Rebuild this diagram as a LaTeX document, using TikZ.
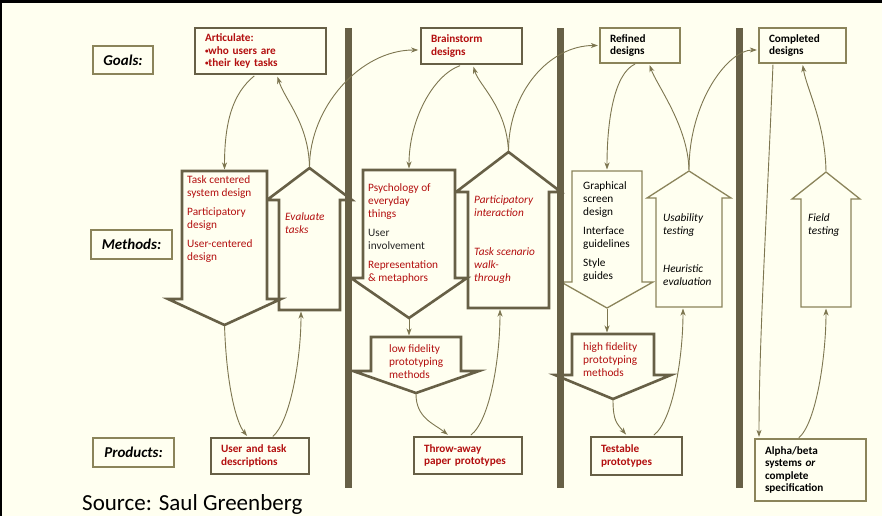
\documentclass[tikz,border=0pt]{standalone}
\usepackage{fontspec}
\setmainfont{Carlito}
\usetikzlibrary{arrows.meta}

\definecolor{bgcol}{HTML}{FFFFF0}
\definecolor{framecol}{HTML}{676046}
\definecolor{thincol}{HTML}{8B845A}
\definecolor{linkcol}{HTML}{7D7650}
\definecolor{redtxt}{HTML}{B30F0F}

\newcommand{\smallbul}{{\fontsize{7}{7}\selectfont\raisebox{1pt}{\textbullet}}}

\begin{document}
\begin{tikzpicture}[x=1pt, y=-1pt,
  boldbox/.style={rectangle, draw=framecol, line width=2.6pt, fill=bgcol, align=left, inner xsep=10pt, inner ysep=2pt, font=\fontsize{11.2}{12.5}\selectfont\bfseries, text=redtxt},
  thinbox/.style={rectangle, draw=thincol, line width=1.2pt, fill=bgcol, align=left, inner xsep=10pt, inner ysep=2pt, font=\fontsize{11.2}{12.5}\selectfont\bfseries},
  rowlabel/.style={rectangle, draw=thincol, line width=1.4pt, fill=bgcol, font=\fontsize{15}{17}\selectfont\bfseries\itshape},
  bigarrow/.style={draw=framecol, line width=2.6pt, fill=bgcol},
  thinarrow/.style={draw=thincol, line width=1.3pt, fill=bgcol},
  methodtxt/.style={anchor=north west, inner sep=0pt, align=left, text=redtxt, font=\fontsize{11.3}{13}\selectfont},
  bar/.style={fill=framecol},
  link/.style={->, >={Stealth[length=7pt,width=5pt,inset=2pt]}, draw=linkcol, line width=0.9pt, shorten >=1.5pt, shorten <=1pt}
]
\useasboundingbox (0,0) rectangle (882,516);
\fill[black] (0,0) rectangle (882,516);
\fill[bgcol] (2,3) rectangle (882,516);

% Row labels
\node[rowlabel, minimum width=60, minimum height=28] (goals) at (123,60) {Goals:};
\node[rowlabel, minimum width=81, minimum height=29] (methods) at (131.5,244.5) {Methods:};
\node[rowlabel, minimum width=81, minimum height=29] (products) at (133.5,452.5) {Products:};

% Methods, column 1
\draw[bigarrow] (279,310) -- (279,200) -- (267,200) -- (309.5,168) coordinate (ua1tip) -- (352,200) -- (340,200) -- (340,310) -- (301,310) coordinate (ua1bot) -- cycle;
\draw[bigarrow] (182,171) -- (224.5,171) coordinate (da1top) -- (267,171) -- (267,299) -- (281,299) -- (224.5,325) coordinate (da1tip) -- (168,299) -- (182,299) -- cycle;

% Methods, column 2
\draw[bigarrow] (468,308) -- (468,192) -- (456,192) -- (508.5,152) coordinate (ua2tip) -- (561,192) -- (549,192) -- (549,308) -- (500,308) coordinate (ua2bot) -- cycle;
\draw[bigarrow] (363,170) -- (409,170) coordinate (da2top) -- (455,170) -- (455,278) -- (467,278) -- (409,318) coordinate (da2tip) -- (351,278) -- (363,278) -- cycle;
\draw[bigarrow] (371,337) -- (409,337) coordinate (lftop) -- (461,337) -- (461,371) -- (479,371) -- (416,393) coordinate (lftip) -- (353,371) -- (371,371) -- cycle;

% Methods, column 3
\draw[thinarrow] (656,307) -- (656,198) -- (647,198) -- (689,171) coordinate (ua3tip) -- (731,198) -- (722,198) -- (722,307) -- (683,307) coordinate (ua3bot) -- cycle;
\draw[thinarrow] (572,171) -- (607,171) coordinate (da3top) -- (642,171) -- (642,282) -- (653,282) -- (607,308) coordinate (da3tip) -- (561,282) -- (572,282) -- cycle;
\draw[bigarrow] (572,334) -- (607,334) coordinate (hftop) -- (654,334) -- (654,375) -- (671,375) -- (613,399) coordinate (hftip) -- (555,375) -- (572,375) -- cycle;

% Methods, column 4
\draw[thinarrow] (801,307) -- (801,199) -- (792,199) -- (826,172) coordinate (ua4tip) -- (860,199) -- (851,199) -- (851,307) -- (826,307) coordinate (ua4bot) -- cycle;

% Phase separators
\fill[bar] (345,28) rectangle (352,488);
\fill[bar] (557,28) rectangle (564,488);
\fill[bar] (736,28) rectangle (743,488);

% Method texts
\node[methodtxt] (tcsd) at (187,175) {Task centered\\system design\\[6pt]Participatory\\design\\[6pt]User-centered\\design};
\node[methodtxt, font=\fontsize{11.3}{13}\selectfont\itshape] (evtasks) at (285,212) {Evaluate\\tasks};
\node[methodtxt] (psych) at (368,183) {Psychology of\\everyday\\things\\[6pt]\textcolor{black!85}{User}\\\textcolor{black!85}{involvement}\\[6pt]Representation\\\& metaphors};
\node[methodtxt, font=\fontsize{11.3}{13}\selectfont\itshape] (partint) at (474,195) {Participatory\\interaction\\[26pt]Task scenario\\walk-\\through};
\node[methodtxt] (lowfi) at (389,344) {low fidelity\\prototyping\\methods};
\node[methodtxt, text=black] (graph) at (583,181) {Graphical\\screen\\design\\[6pt]Interface\\guidelines\\[6pt]Style\\guides};
\node[methodtxt, text=black, font=\fontsize{11.3}{13}\selectfont\itshape] (usab) at (663,213) {Usability\\testing\\[25pt]Heuristic\\evaluation};
\node[methodtxt] (hifi) at (583,342) {high fidelity\\prototyping\\methods};
\node[methodtxt, text=black, font=\fontsize{11.3}{13}\selectfont\itshape] (field) at (808,213) {Field\\testing};

% Goals
\node[boldbox, text width=111, minimum height=46] (art) at (260.5,51) {Articulate:\\\smallbul who users are\\\smallbul their key tasks};
\node[boldbox, text width=81, minimum height=36] (brain) at (471.5,46) {Brainstorm\\designs};
\node[thinbox, text width=60, minimum height=35] (refined) at (640,45.5) {Refined\\designs};
\node[thinbox, text width=67, minimum height=35] (completed) at (802.5,45.5) {Completed\\designs};

% Products
\node[boldbox, line width=1.8pt, text width=78, minimum height=36] (utd) at (260,456) {User and task\\descriptions};
\node[boldbox, text width=88, minimum height=37] (throw) at (468,455.5) {Throw-away\\paper prototypes};
\node[boldbox, text width=71, minimum height=38] (testable) at (636.5,456) {Testable\\prototypes};
\node[thinbox, text width=91, minimum height=62] (alpha) at (810.5,470) {Alpha/beta\\systems \textit{or}\\complete\\specification};

\node[anchor=base west, inner sep=0pt, font=\fontsize{23}{27}\selectfont] (source) at (82,510) {Source: Saul Greenberg};

% Links, column 1
\draw[link] ([xshift=-5.5pt]art.south) .. controls +(-22,18) and +(0,-50) .. (da1top);
\draw[link] (ua1tip) .. controls +(-1,-45) and +(8,25) .. ([xshift=16.5pt]art.south);
\draw[link] (ua1tip) .. controls +(0,-60) and +(-60,0) .. ([yshift=-4pt]brain.west);
\draw[link] (da1tip) .. controls +(2,60) and +(-12,-15) .. ([xshift=-12pt]utd.north);
\draw[link] ([xshift=12pt]utd.north) .. controls +(18,-15) and +(0,50) .. (ua1bot);

% Links, column 2
\draw[link] ([xshift=-10.5pt]brain.south) .. controls +(-28,10) and +(0,-50) .. (da2top);
\draw[link] (ua2tip) .. controls +(-2,-45) and +(6,20) .. ([xshift=1.5pt]brain.south);
\draw[link] (ua2tip) .. controls +(0,-60) and +(-50,0) .. (refined.west);
\draw[link] (da2tip) -- (lftop);
\draw[link] (lftip) .. controls +(0,25) and +(-15,-12) .. ([xshift=-19pt]throw.north);
\draw[link] ([xshift=2pt]throw.north) .. controls +(20,-15) and +(0,50) .. (ua2bot);

% Links, column 3
\draw[link] ([xshift=-4pt]refined.south) .. controls +(-22,10) and +(0,-50) .. (da3top);
\draw[link] (ua3tip) .. controls +(-1,-45) and +(8,22) .. ([xshift=9pt]refined.south);
\draw[link] (ua3tip) .. controls +(0,-70) and +(-30,0) .. ([yshift=-4.5pt]completed.west);
\draw[link] (da3tip) -- (hftop);
\draw[link] (hftip) .. controls +(0,22) and +(-10,-12) .. ([xshift=-9.5pt]testable.north);
\draw[link] ([xshift=16.5pt]testable.north) .. controls +(20,-15) and +(0,50) .. (ua3bot);

% Links, column 4
\draw[link] ([xshift=-29.5pt]completed.south) .. controls +(-6,150) and +(0,-100) .. ([xshift=-51.5pt]alpha.north);
\draw[link] ([xshift=-12.5pt]alpha.north) .. controls +(18,-15) and +(0,50) .. (ua4bot);
\draw[link] (ua4tip) .. controls +(-1,-50) and +(4,25) .. (completed.south);

\end{tikzpicture}
\end{document}
